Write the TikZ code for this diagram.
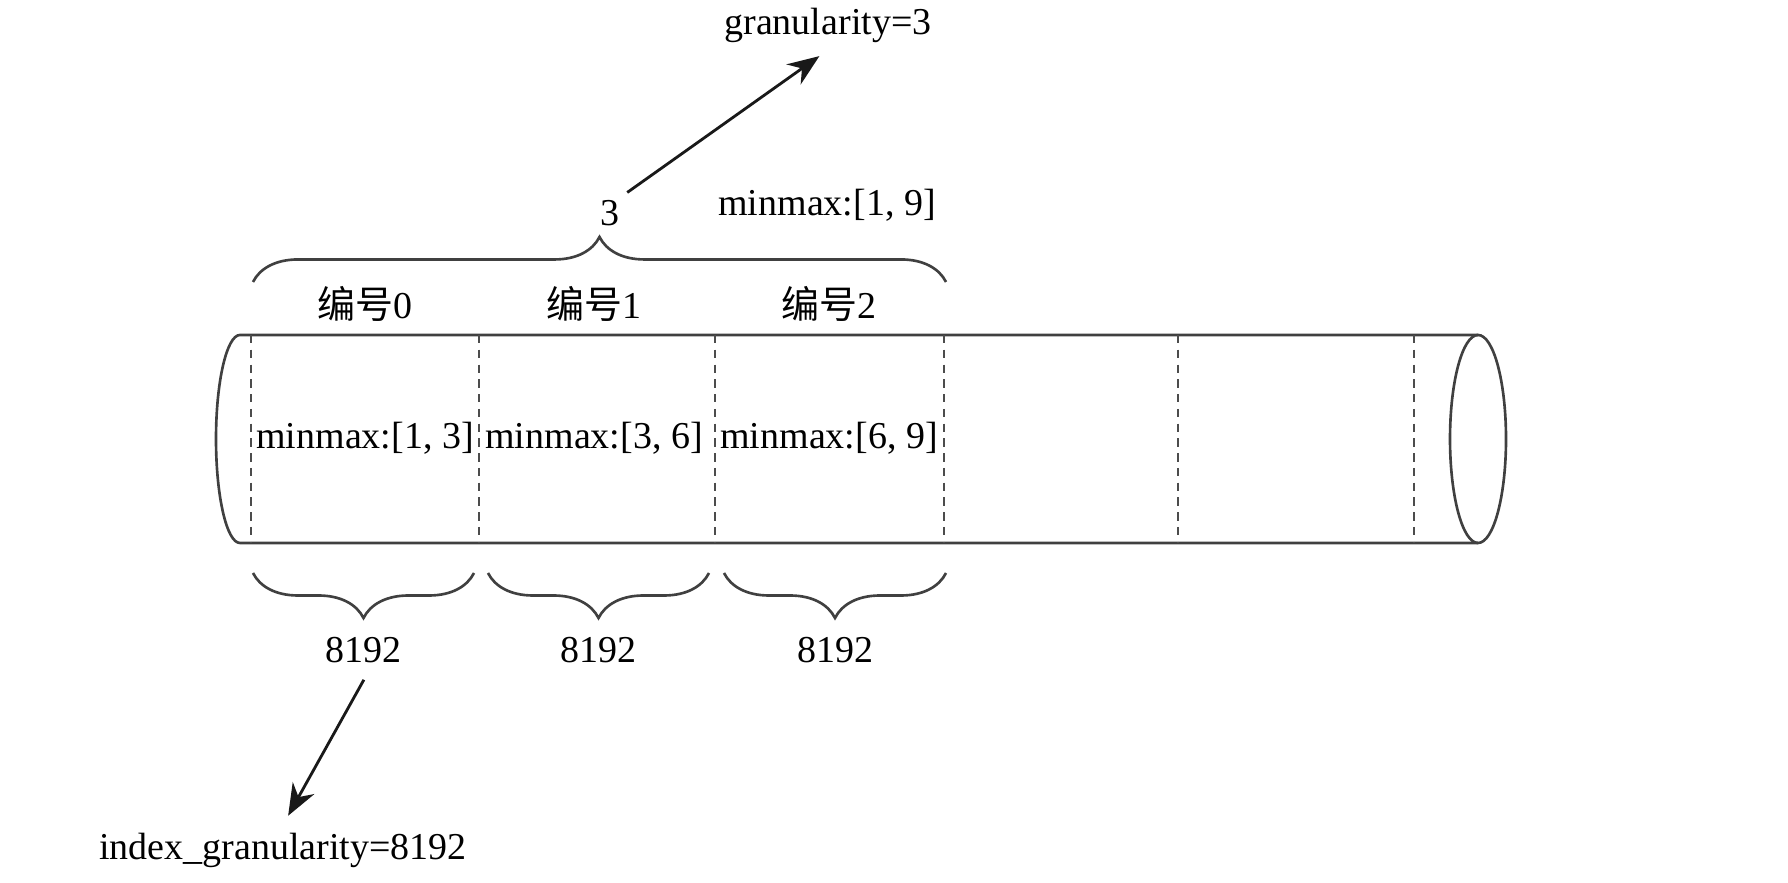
\documentclass[tikz,border=0pt]{standalone}
\usepackage{fontspec}
\setmainfont{Liberation Serif}
\newfontfamily\cjk{Noto Sans CJK SC}
\usetikzlibrary{arrows.meta,decorations.pathreplacing}

\begin{document}
\begin{tikzpicture}[x=0.01cm, y=0.01cm,
  lbl/.style={inner sep=2pt, font=\fontsize{10.8}{12}\selectfont},
  tube/.style={line width=0.75pt, draw=black!75},
  cut/.style={line width=0.75pt, draw=black!70, dash pattern=on 2.4pt off 1.8pt},
  brc/.style={line width=0.75pt, draw=black!75, decorate, decoration={brace, amplitude=0.45cm}},
  arr/.style={-{Stealth[length=9pt, width=7pt]}, line width=0.8pt, black!90}
]
  \useasboundingbox (0,0) rectangle (1788,883);
  % the tube
  \draw[tube] (1478,548) -- (240,548) arc[start angle=90, end angle=270, x radius=24, y radius=104] -- (1478,340);
  \draw[tube] (1478,444) ellipse[x radius=28, y radius=104];
  \foreach \x in {251,479,715,944,1178,1414}
    \draw[cut] (\x,548) -- (\x,340);
  % granules
  \foreach \i/\x/\lo/\hi in {0/365/1/3, 1/594/3/6, 2/829/6/9} {
    \node[lbl] (id\i) at (\x,579) {{\cjk 编号}\i};
    \node[lbl] (mm\i) at (\x,445) {minmax:[\lo, \hi]};
  }
  \foreach \i/\a/\b in {0/253/474, 1/488/709, 2/724/946} {
    \draw[brc] (\b,310) -- (\a,310);
    \node[lbl] (rows\i) at ({(\a+\b)/2},233) {8192};
  }
  % skip index
  \draw[brc] (253,601) -- (946,601);
  \node[lbl] (three) at (610,670) {3};
  \node[lbl] (total) at (827,678) {minmax:[1, 9]};
  \node[lbl] (gran) at (828,858) {granularity=3};
  \node[lbl] (idxgran) at (283,33) {index\_granularity=8192};
  \draw[arr, shorten >=3pt] (three.north east) -- (gran.south);
  \draw[arr, shorten <=3pt, shorten >=3pt] (rows0.-75) -- (idxgran.north);
\end{tikzpicture}
\end{document}
